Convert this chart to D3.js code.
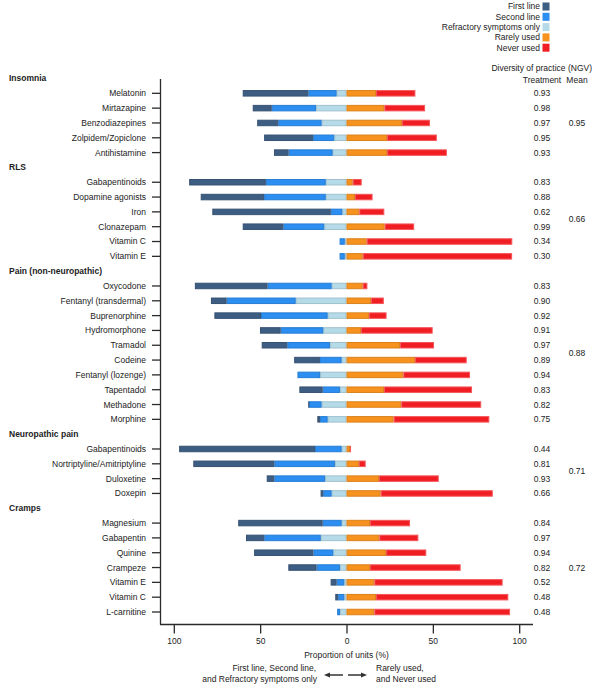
<!DOCTYPE html>
<html><head><meta charset="utf-8">
<script src="https://cdn.jsdelivr.net/npm/d3@7"></script>
<style>
body{margin:0;background:#fff;}
text{font-family:"Liberation Sans",Arial,sans-serif;fill:#222;}
</style></head>
<body><svg id="c" width="595" height="685"></svg>
<script>
// ---- data ----
const groups = ["Insomnia","RLS","Pain (non-neuropathic)","Neuropathic pain","Cramps"];
const groupMeans = ["0.95","0.66","0.88","0.71","0.72"];
const treatments = [
 ["Insomnia","Melatonin"],["Insomnia","Mirtazapine"],["Insomnia","Benzodiazepines"],["Insomnia","Zolpidem/Zopiclone"],["Insomnia","Antihistamine"],
 ["RLS","Gabapentinoids"],["RLS","Dopamine agonists"],["RLS","Iron"],["RLS","Clonazepam"],["RLS","Vitamin C"],["RLS","Vitamin E"],
 ["Pain (non-neuropathic)","Oxycodone"],["Pain (non-neuropathic)","Fentanyl (transdermal)"],["Pain (non-neuropathic)","Buprenorphine"],["Pain (non-neuropathic)","Hydromorphone"],["Pain (non-neuropathic)","Tramadol"],["Pain (non-neuropathic)","Codeine"],["Pain (non-neuropathic)","Fentanyl (lozenge)"],["Pain (non-neuropathic)","Tapentadol"],["Pain (non-neuropathic)","Methadone"],["Pain (non-neuropathic)","Morphine"],
 ["Neuropathic pain","Gabapentinoids"],["Neuropathic pain","Nortriptyline/Amitriptyline"],["Neuropathic pain","Duloxetine"],["Neuropathic pain","Doxepin"],
 ["Cramps","Magnesium"],["Cramps","Gabapentin"],["Cramps","Quinine"],["Cramps","Crampeze"],["Cramps","Vitamin E"],["Cramps","Vitamin C"],["Cramps","L-carnitine"]
];
const firstLine   = [38,11,12.2,28.4,8.5, 44.4,36.7,68.6,23.5,0,0, 42.1,9.1,27,12,14.8,14.9,0,13.5,0.5,1.6, 78.7,46.9,4.4,1.5, 48.9,10.6,34.3,16.4,3.5,1.7,0];
const secondLine  = [16.4,25.6,25.1,12.2,25.5, 34.7,35.7,6.7,23.7,3,3, 37.1,40,38.6,24.7,24.7,12.6,13.1,10,7.3,4.4, 15.4,35.1,29.4,4.9, 11,32.7,11.6,13.5,4.4,3.5,1.6];
const refractory  = [5.7,17.7,14.4,7.1,8, 12,12,2.4,12.9,1,1, 8.6,29.4,10.9,13.4,9.6,2.8,15.3,3.8,14.4,10.9, 2.8,6.7,12.4,8.6, 2.8,14.9,7.6,3.8,1.3,1.3,3.8];
const rarelyUsed  = [17.1,21.9,32.1,23.5,23.5, 3.6,4.9,7.4,22.1,11.7,9.4, 9.4,14.2,13,8.4,31,39.7,32.9,21.7,31.7,27.3, 2,7.2,18.8,19.8, 13.6,19,22.9,13.6,16.1,17.1,16.1];
const neverUsed   = [22.8,23.6,16.2,28.8,34.6, 5.2,10.2,14.5,17.1,84.3,86.5, 2.7,7.4,10.2,41.5,19.7,29.9,38.6,51,46.3,55.4, 0.6,3.9,34.6,64.9, 23.2,22.6,23.3,52.5,74.3,76.6,78.6];
const ngv = ["0.93","0.98","0.97","0.95","0.93","0.83","0.88","0.62","0.99","0.34","0.30","0.83","0.90","0.92","0.91","0.97","0.89","0.94","0.83","0.82","0.75","0.44","0.81","0.93","0.66","0.84","0.97","0.94","0.82","0.52","0.48","0.48"];
const categories = ["First line","Second line","Refractory symptoms only","Rarely used","Never used"];
const colors = ["#3d5d82","#2b8ef0","#b5dbe8","#f7921f","#f01e22"];
const xTicks = [-100,-50,0,50,100];

// ---- layout ----
const svg = d3.select("#c");
const x = d3.scaleLinear().domain([-100,100]).range([173.8,519.2]);
// slot index for each row (headers take a slot)
const rows = [];
let slot = 0;
const headerSlots = [];
groups.forEach((g,gi)=>{
  headerSlots.push(slot); slot++;
  treatments.forEach((t,i)=>{ if(t[0]===g){ rows.push({i, g, gi, name:t[1], slot}); slot++; } });
});
const y = d3.scaleLinear().domain([0, slot-1]).range([78.5, 612]);
const barH = 6.5;

// bars
const series = [firstLine, secondLine, refractory, rarelyUsed, neverUsed];
const segs = [];
rows.forEach(r=>{
  const f=firstLine[r.i], s=secondLine[r.i], rf=refractory[r.i];
  // left side: refractory nearest zero, then second, then first
  segs.push({r, k:2, x0:-rf, x1:0});
  segs.push({r, k:1, x0:-rf-s, x1:-rf});
  segs.push({r, k:0, x0:-rf-s-f, x1:-rf-s});
  const ra=rarelyUsed[r.i], nv=neverUsed[r.i];
  segs.push({r, k:3, x0:0, x1:ra});
  segs.push({r, k:4, x0:ra, x1:ra+nv});
});
svg.append("g").selectAll("rect").data(segs.filter(d=>d.x1-d.x0>0)).join("rect")
  .attr("x", d=>x(d.x0)+0.5)
  .attr("width", d=>Math.max(0.1, x(d.x1)-x(d.x0)-1))
  .attr("y", d=>y(d.r.slot)-barH/2+0.5)
  .attr("height", barH-1)
  .attr("fill", d=>colors[d.k])
  .attr("stroke", d=> d.k===4 ? "#f4565a" : d3.color(colors[d.k]).darker(0.35))
  .attr("stroke-width",1);

// y axis
const axisColor="#2a2a2a";
svg.append("line").attr("x1",160.5).attr("x2",160.5).attr("y1",79).attr("y2",624.5)
  .attr("stroke",axisColor).attr("stroke-width",1.3);
svg.append("g").selectAll("line").data(rows).join("line")
  .attr("x1",152).attr("x2",160.5).attr("y1",d=>y(d.slot)).attr("y2",d=>y(d.slot))
  .attr("stroke",axisColor).attr("stroke-width",1.3);
svg.append("g").selectAll("text").data(rows).join("text")
  .attr("x",146).attr("y",d=>y(d.slot)).attr("dy","0.35em")
  .attr("text-anchor","end").attr("font-size","8.5px").text(d=>d.name);
// group headers
svg.append("g").selectAll("text").data(groups).join("text")
  .attr("x",9).attr("y",(d,i)=>y(headerSlots[i])).attr("dy","0.35em")
  .attr("font-size","8.5px").attr("font-weight","bold").text(d=>d);

// x axis
const xAxis = d3.axisBottom(x).tickValues(xTicks).tickSize(9).tickPadding(4)
  .tickFormat(d=>Math.abs(d));
const gx = svg.append("g").attr("transform","translate(0,624.5)").call(xAxis);
gx.select(".domain").remove();
gx.selectAll(".tick line").attr("stroke",axisColor).attr("stroke-width",1.3);
gx.selectAll(".tick text").attr("font-size","8.5px").attr("fill","#222")
  .attr("font-family","Liberation Sans, Arial, sans-serif");
svg.append("line").attr("x1",160).attr("x2",533).attr("y1",624.5).attr("y2",624.5)
  .attr("stroke",axisColor).attr("stroke-width",1.3);
svg.append("text").attr("x",x(0)).attr("y",655).attr("dy","0.35em").attr("text-anchor","middle")
  .attr("font-size","8.5px").text("Proportion of units (%)");

// bottom annotation
svg.append("text").attr("x",316).attr("y",668).attr("dy","0.35em").attr("text-anchor","end").attr("font-size","8.5px").text("First line, Second line,");
svg.append("text").attr("x",317).attr("y",679).attr("dy","0.35em").attr("text-anchor","end").attr("font-size","8.5px").text("and Refractory symptoms only");
svg.append("text").attr("x",376).attr("y",668).attr("dy","0.35em").attr("font-size","8.5px").text("Rarely used,");
svg.append("text").attr("x",376).attr("y",679).attr("dy","0.35em").attr("font-size","8.5px").text("and Never used");
const ay=675;
svg.append("line").attr("x1",343).attr("x2",329).attr("y1",ay).attr("y2",ay).attr("stroke","#333").attr("stroke-width",1.5);
svg.append("path").attr("d",`M324,${ay} L330,${ay-2.5} L330,${ay+2.5} Z`).attr("fill","#333");
svg.append("line").attr("x1",348).attr("x2",362).attr("y1",ay).attr("y2",ay).attr("stroke","#333").attr("stroke-width",1.5);
svg.append("path").attr("d",`M367,${ay} L361,${ay-2.5} L361,${ay+2.5} Z`).attr("fill","#333");

// NGV columns
svg.append("text").attr("x",592).attr("y",68.5).attr("dy","0.35em").attr("text-anchor","end").attr("font-size","8.5px").text("Diversity of practice (NGV)");
svg.append("text").attr("x",542).attr("y",80).attr("dy","0.35em").attr("text-anchor","middle").attr("font-size","8.5px").text("Treatment");
svg.append("text").attr("x",577).attr("y",80).attr("dy","0.35em").attr("text-anchor","middle").attr("font-size","8.5px").text("Mean");
svg.append("g").selectAll("text").data(rows).join("text")
  .attr("x",542).attr("y",d=>y(d.slot)).attr("dy","0.35em").attr("text-anchor","middle")
  .attr("font-size","8.5px").text(d=>ngv[d.i]);
svg.append("g").selectAll("text").data(groups).join("text")
  .attr("x",577).attr("y",(g,gi)=>{const rr=rows.filter(r=>r.gi===gi); return (y(rr[0].slot)+y(rr[rr.length-1].slot))/2;})
  .attr("dy","0.35em").attr("text-anchor","middle").attr("font-size","8.5px").text((d,i)=>groupMeans[i]);

// legend
const legY = [6.5,16.8,27.1,37.4,47.7];
const leg = svg.append("g");
categories.forEach((c,i)=>{
  leg.append("text").attr("x",540).attr("y",legY[i]).attr("dy","0.35em").attr("text-anchor","end").attr("font-size","8.5px").text(c);
  leg.append("rect").attr("x",542.5).attr("y",legY[i]-4).attr("width",7).attr("height",8).attr("fill",colors[i]);
});
</script></body></html>
